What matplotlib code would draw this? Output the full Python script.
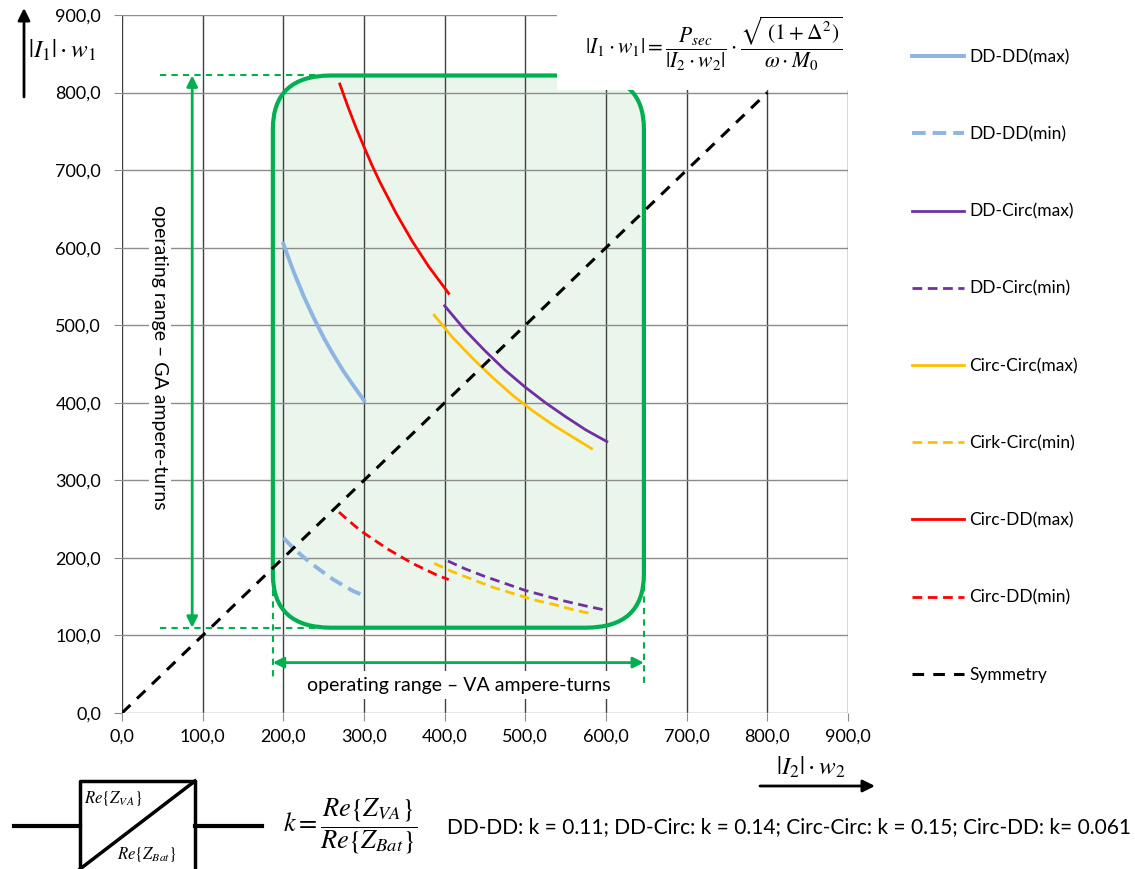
import matplotlib
matplotlib.use("Agg")
import matplotlib.pyplot as plt
from matplotlib.patches import FancyBboxPatch, Rectangle

plt.rcParams['font.family'] = ['Lato', 'DejaVu Sans']
plt.rcParams['mathtext.fontset'] = 'stix'

# values
dd_dd_max_x = [200, 212, 225, 237, 250, 262, 275, 287, 300]
dd_dd_max_y = [605, 571, 538, 511, 484, 462, 440, 422, 403]
dd_dd_min_x = [200, 212, 225, 237, 250, 262, 275, 287, 301]
dd_dd_min_y = [226, 213, 201, 191, 181, 172, 164, 157, 151]

dd_circ_max_x = [400, 425, 450, 475, 500, 525, 550, 575, 601]
dd_circ_max_y = [525, 494, 467, 442, 420, 400, 382, 365, 350]
dd_circ_min_x = [404, 425, 450, 475, 500, 525, 550, 575, 602]
dd_circ_min_y = [196, 186, 176, 167, 158, 151, 144, 138, 132]

circ_circ_max_x = [387, 410, 435, 460, 485, 510, 535, 560, 582]
circ_circ_max_y = [513, 484, 457, 432, 409, 389, 371, 355, 341]
circ_circ_min_x = [387, 410, 435, 460, 485, 510, 535, 560, 582]
circ_circ_min_y = [193, 182, 172, 162, 154, 146, 140, 133, 128]

circ_dd_max_x = [270, 280, 290, 300, 310, 320, 330, 340, 350, 360, 370, 380, 390, 405]
circ_dd_max_y = [811, 782, 755, 730, 706, 684, 664, 644, 626, 608, 592, 576, 562, 541]
circ_dd_min_x = [269, 280, 290, 300, 310, 320, 330, 340, 350, 360, 370, 380, 390, 405]
circ_dd_min_y = [259, 249, 240, 232, 225, 218, 211, 205, 199, 193, 188, 183, 178, 172]

sym_x = [0, 800]
sym_y = [0, 800]

# operating ranges
va_lo, va_hi = 187, 647
ga_lo, ga_hi = 110, 822

ticks = list(range(0, 901, 100))
tick_labels = [("%.1f" % t).replace('.', ',') for t in ticks]

k_text = "DD-DD: k = 0.11; DD-Circ: k = 0.14; Circ-Circ: k = 0.15; Circ-DD: k= 0.061"

c_blue = '#8DB4E2'
c_purple = '#7030A0'
c_yellow = '#FFC000'
c_red = '#FF0000'
c_green = '#00B050'

fig = plt.figure(figsize=(11.35, 8.69), dpi=100)
ax = fig.add_axes([122/1135, 1 - 713/869, 726/1135, 698/869])
ax.set_xlim(0, 900)
ax.set_ylim(0, 900)
ax.set_xticks(ticks)
ax.set_xticklabels(tick_labels)
ax.set_yticks(ticks)
ax.set_yticklabels(tick_labels)
for s in ax.spines.values():
    s.set_visible(False)
ax.tick_params(length=6, color='#8c8c8c', labelsize=13)
ax.tick_params(axis='x', pad=5)
ax.tick_params(axis='y', pad=9)
ax.set_axisbelow('line')
ax.xaxis.grid(True, color='#404040', lw=1)
ax.yaxis.grid(True, color='#8c8c8c', lw=1)

# green operating area
fill = FancyBboxPatch((va_lo, ga_lo), va_hi - va_lo, ga_hi - ga_lo,
                      boxstyle="round,pad=0,rounding_size=72",
                      mutation_aspect=0.96,
                      facecolor='#EAF6EC', edgecolor='none', zorder=1)
ax.add_patch(fill)
edge = FancyBboxPatch((va_lo, ga_lo), va_hi - va_lo, ga_hi - ga_lo,
                      boxstyle="round,pad=0,rounding_size=72",
                      mutation_aspect=0.96,
                      facecolor='none', edgecolor=c_green, lw=3, zorder=2)
ax.add_patch(edge)

# curves
ax.plot(dd_dd_max_x, dd_dd_max_y, color=c_blue, lw=2.8, label='DD-DD(max)', zorder=3)
ax.plot(dd_dd_min_x, dd_dd_min_y, color=c_blue, lw=2.8, dashes=(3.5, 1.8), label='DD-DD(min)', zorder=3)
ax.plot(dd_circ_max_x, dd_circ_max_y, color=c_purple, lw=2, label='DD-Circ(max)', zorder=3)
ax.plot(dd_circ_min_x, dd_circ_min_y, color=c_purple, lw=2, dashes=(3.5, 2), label='DD-Circ(min)', zorder=3)
ax.plot(circ_circ_max_x, circ_circ_max_y, color=c_yellow, lw=2, label='Circ-Circ(max)', zorder=3)
ax.plot(circ_circ_min_x, circ_circ_min_y, color=c_yellow, lw=2, dashes=(3.5, 2), label='Cirk-Circ(min)', zorder=3)
ax.plot(circ_dd_max_x, circ_dd_max_y, color=c_red, lw=2, label='Circ-DD(max)', zorder=3)
ax.plot(circ_dd_min_x, circ_dd_min_y, color=c_red, lw=2, dashes=(3.5, 2), label='Circ-DD(min)', zorder=3)
ax.plot(sym_x, sym_y, color='black', lw=2.2, dashes=(3.8, 3), label='Symmetry', zorder=3)

# range markers
gkw = dict(color=c_green, lw=1.5, dashes=(3, 2.5), clip_on=False, zorder=2)
ax.plot([47, 245], [ga_hi, ga_hi], **gkw)
ax.plot([47, 245], [ga_lo, ga_lo], **gkw)
ax.plot([va_lo, va_lo], [188, 42], **gkw)
ax.plot([va_hi, va_hi], [165, 36], **gkw)
ax.annotate('', xy=(87, ga_hi), xytext=(87, ga_lo),
            arrowprops=dict(arrowstyle='<|-|>', color=c_green, lw=2, mutation_scale=16,
                            shrinkA=0, shrinkB=0), zorder=4)
ax.annotate('', xy=(va_lo, 65), xytext=(va_hi, 65),
            arrowprops=dict(arrowstyle='<|-|>', color=c_green, lw=2, mutation_scale=16,
                            shrinkA=0, shrinkB=0), zorder=4, annotation_clip=False)
ax.text(47, 459, 'operating range – GA ampere-turns', rotation=-90, ha='center', va='center',
        fontsize=14, zorder=3.5,
        bbox=dict(facecolor='white', edgecolor='none', pad=2))
ax.text(418, 36, 'operating range – VA ampere-turns', ha='center', va='center',
        fontsize=14, zorder=3.5,
        bbox=dict(facecolor='white', edgecolor='none', pad=4))

# white box behind the formula
ax.add_patch(Rectangle((539, 803), 370, 130, facecolor='white', edgecolor='none',
                       zorder=2.6, clip_on=False))

leg = ax.legend(loc='upper left', bbox_to_anchor=(912/1135, 1 - 49/869),
                bbox_transform=fig.transFigure, frameon=False, handlelength=3.0,
                handletextpad=0.3, labelspacing=3.52, fontsize=12.5,
                borderaxespad=0, borderpad=0)

# overlay in pixel coordinates for labels and the converter symbol
ov = fig.add_axes([0, 0, 1, 1], zorder=5)
ov.set_xlim(0, 1135)
ov.set_ylim(869, 0)
ov.axis('off')
ov.patch.set_alpha(0)

ov.text(714, 44, r'$|I_1\cdot w_1| = \dfrac{P_{sec}}{|I_2\cdot w_2|}\cdot\dfrac{\sqrt{\ (1+\Delta^2)}}{\omega\cdot M_0}$',
        ha='center', va='center', fontsize=15.5)
ov.text(62, 50, r'$|I_1|\cdot w_1$', ha='center', va='center', fontsize=18)
ov.annotate('', xy=(24, 8), xytext=(24, 97),
            arrowprops=dict(arrowstyle='-|>', color='black', lw=2, mutation_scale=18,
                            shrinkA=0, shrinkB=0))
ov.text(811, 767, r'$|I_2|\cdot w_2$', ha='center', va='center', fontsize=18)
ov.annotate('', xy=(875, 786), xytext=(760, 786),
            arrowprops=dict(arrowstyle='-|>', color='black', lw=2, mutation_scale=18,
                            shrinkA=0, shrinkB=0))

# converter symbol
ov.plot([14, 80], [826, 826], color='black', lw=3)
ov.plot([195, 262], [826, 826], color='black', lw=3)
ov.plot([80, 80, 195, 195], [875, 781, 781, 875], color='black', lw=2.5, clip_on=False)
ov.plot([80, 195], [869, 781], color='black', lw=2.5)
ov.text(84, 799, r'$Re\{Z_{VA}\}$', ha='left', va='center', fontsize=12)
ov.text(117, 855, r'$Re\{Z_{Bat}\}$', ha='left', va='center', fontsize=12)
ov.text(283, 826, r'$k = \dfrac{Re\{Z_{VA}\}}{Re\{Z_{Bat}\}}$', ha='left', va='center', fontsize=19)
ov.text(447, 827, k_text, ha='left', va='center', fontsize=15)

fig.savefig('out.png', dpi=100)
